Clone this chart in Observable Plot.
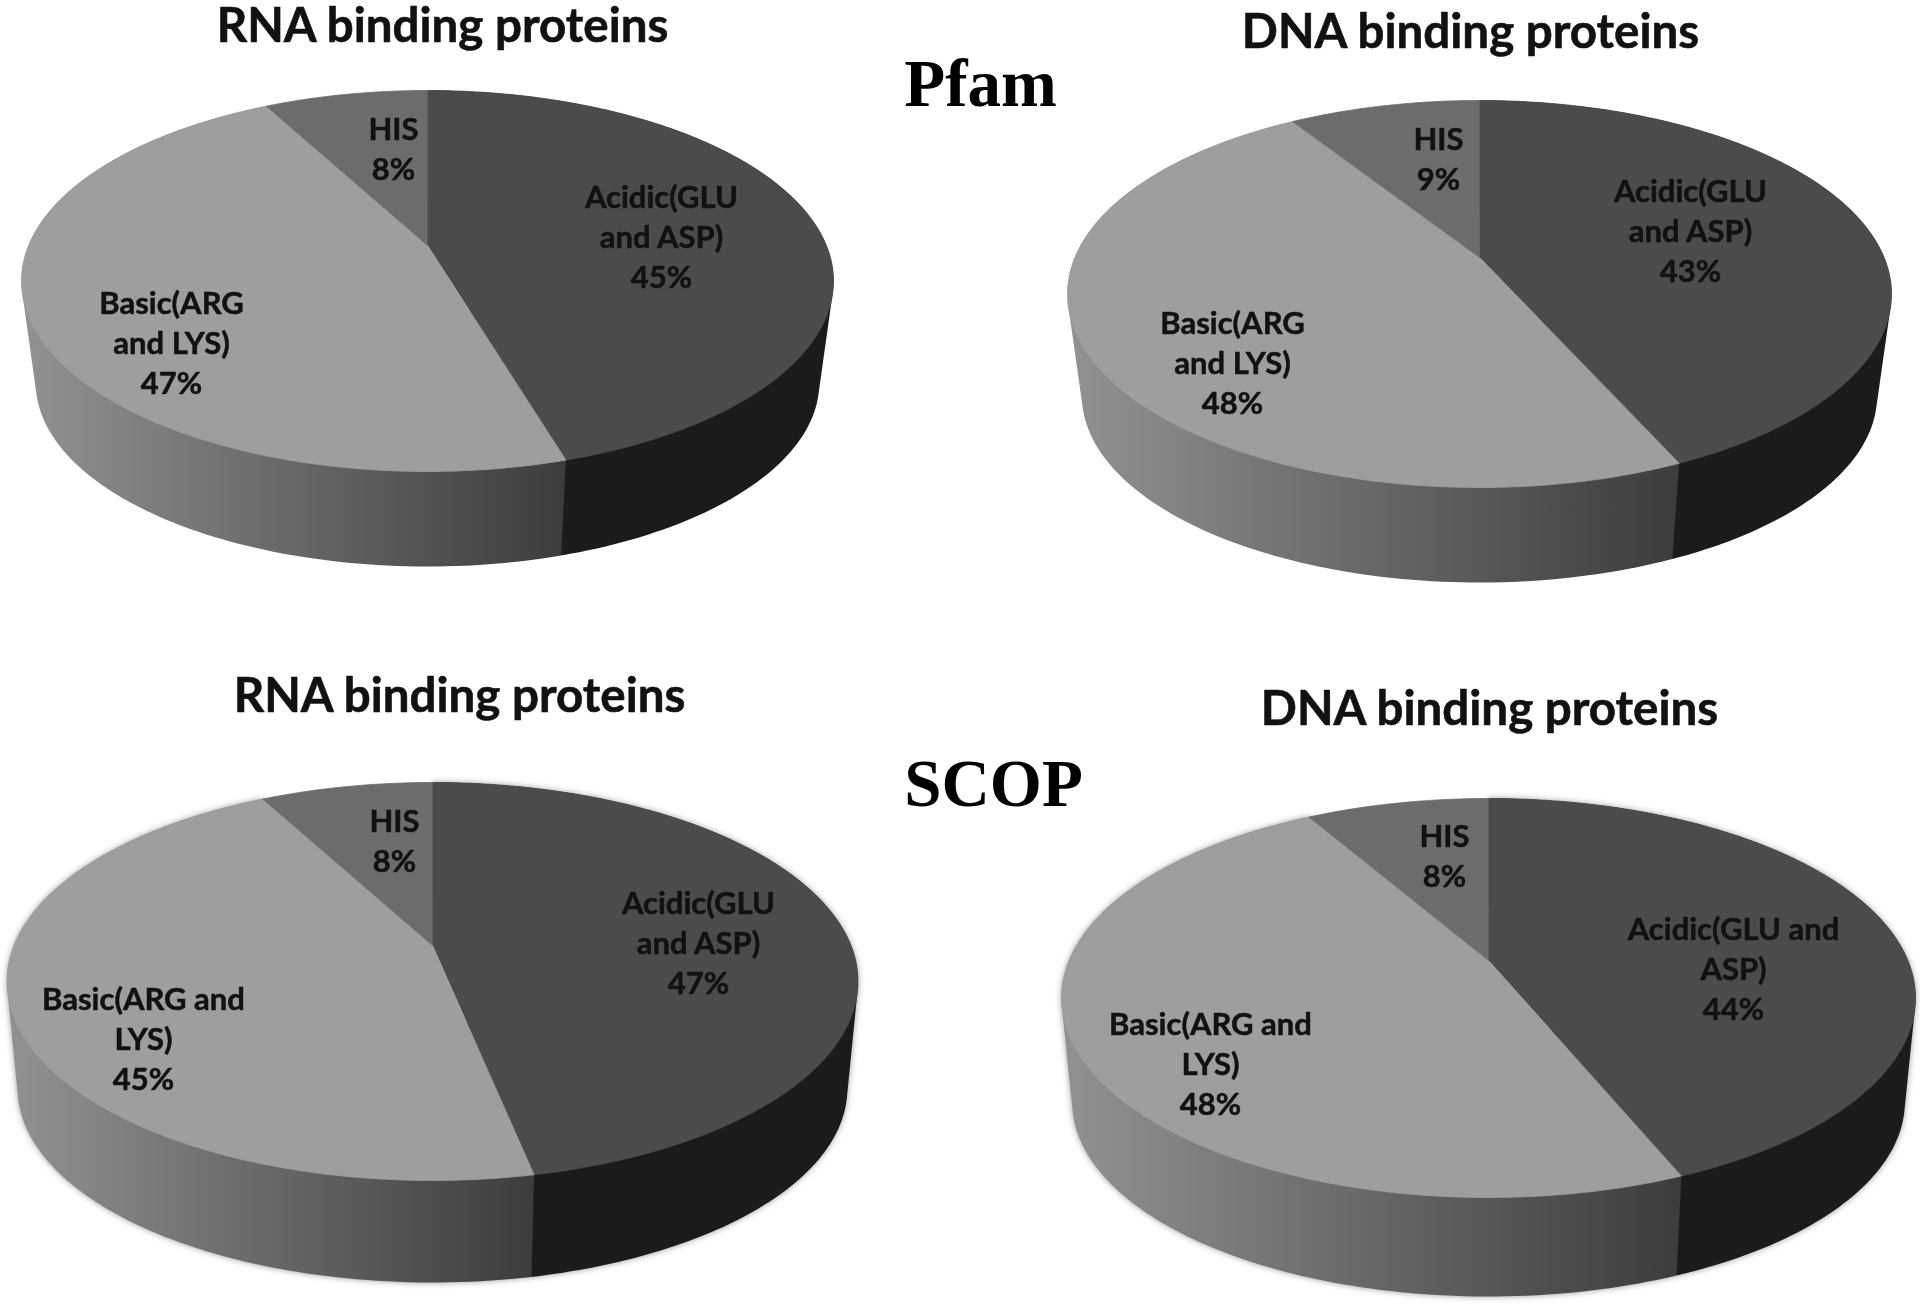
<!DOCTYPE html>
<html>
<head>
<meta charset="utf-8">
<script src="https://cdn.jsdelivr.net/npm/d3@7"></script>
<script src="https://cdn.jsdelivr.net/npm/@observablehq/plot@0.6"></script>
<style>html,body{margin:0;padding:0;background:#fff}svg{display:block}</style>
</head>
<body>
<div id="chart"></div>
<script>
// ---- data (slice sizes estimated from the drawn angles; labels round them) ----
const pieTitles = ["RNA binding proteins", "DNA binding proteins", "RNA binding proteins", "DNA binding proteins"];
const groupNames = ["Pfam", "SCOP"];
const acidic = [45.4, 43.3, 46.8, 43.8];
const basic  = [46.8, 47.7, 45.4, 47.9];
const his    = [7.8, 9.0, 7.8, 8.3];
const acidicLabels = ["Acidic(GLU\nand ASP)", "Acidic(GLU\nand ASP)", "Acidic(GLU\nand ASP)", "Acidic(GLU and\nASP)"];
const basicLabels  = ["Basic(ARG\nand LYS)", "Basic(ARG\nand LYS)", "Basic(ARG and\nLYS)", "Basic(ARG and\nLYS)"];
const hisLabels    = ["HIS", "HIS", "HIS", "HIS"];

// ---- layout: the perspective frame of each pie, in page pixels ----
const pieFrames = [
  {cx: 427,  apex: 245, top: 90,  bottom: 471,  left: 21,   right: 833,  wall: 566,  shrink: 0.965},
  {cx: 1479, apex: 257, top: 100, bottom: 487,  left: 1068, right: 1892, wall: 582,  shrink: 0.965},
  {cx: 432,  apex: 945, top: 782, bottom: 1180, left: 6,    right: 857,  wall: 1282, shrink: 0.975},
  {cx: 1488, apex: 960, top: 798, bottom: 1197, left: 1060, right: 1914, wall: 1296, shrink: 0.975}
];
const titleAt = [[442, 26], [1470, 32], [459, 696], [1489, 709]];
const groupAt = [[980, 84], [993, 784]];
const acidicAt = [[661, 235], [1690, 229], [698, 941], [1733, 967]];
const basicAt  = [[171, 341], [1232, 361], [143, 1037], [1210, 1062]];
const hisAt    = [[393, 147], [1438, 157], [394, 839], [1444, 854]];

const W = 1920, H = 1307;
const colors = {acidic: "#4b4b4b", basic: "#9e9e9e", his: "#6c6c6c", acidicWall: "#1b1b1b"};
const pct = d3.format(".0f");

function projector(f) {
  const A = f.apex - f.top, B = f.bottom - f.apex;
  const k = -(B - A) / (A + B);
  const S = A * (1 - k);
  const T = ((f.right - f.left) / 2) * Math.sqrt(1 - k * k);
  const top = t => {
    const u = Math.sin(t), v = -Math.cos(t), w = 1 + k * v;
    return [f.cx + T * u / w, f.apex + S * v / w];
  };
  const wallApex = f.wall - f.shrink * B;
  const bottom = t => {
    const u = Math.sin(t), v = -Math.cos(t), w = 1 + k * v;
    return [f.cx + f.shrink * T * u / w, wallApex + f.shrink * S * v / w];
  };
  return {top, bottom};
}

const topRows = [], wallRows = [], labelRows = [];
pieFrames.forEach((f, i) => {
  const p = projector(f);
  const slices = [
    {key: "acidic", value: acidic[i], fill: colors.acidic, wallFill: colors.acidicWall},
    {key: "basic",  value: basic[i],  fill: colors.basic,  wallFill: `url(#wall${i})`},
    {key: "his",    value: his[i],    fill: colors.his,    wallFill: colors.his}
  ];
  const total = d3.sum(slices, s => s.value);
  let start = 0;
  for (const s of slices) {
    const a0 = start / total * 2 * Math.PI;
    const a1 = (start + s.value) / total * 2 * Math.PI;
    start += s.value;
    const n = Math.ceil(s.value * 3);
    const angles = d3.range(n + 1).map(j => a0 + (a1 - a0) * j / n);
    const id = `${i}-${s.key}`;
    topRows.push({x: f.cx, y: f.apex, id, fill: s.fill});
    angles.forEach(t => { const q = p.top(t); topRows.push({x: q[0], y: q[1], id, fill: s.fill}); });
    if (s.key !== "his") {
      // the side wall is the hull swept between the top rim and the bottom rim
      const hull = d3.polygonHull([...angles.map(p.top), ...angles.map(p.bottom)]);
      hull.forEach(q => wallRows.push({x: q[0], y: q[1], id, fill: s.wallFill, row: i < 2 ? 0 : 1}));
    }
  }
  labelRows.push(
    {x: acidicAt[i][0], y: acidicAt[i][1], text: `${acidicLabels[i]}\n${pct(acidic[i])}%`},
    {x: basicAt[i][0],  y: basicAt[i][1],  text: `${basicLabels[i]}\n${pct(basic[i])}%`},
    {x: hisAt[i][0],    y: hisAt[i][1],    text: `${hisLabels[i]}\n${pct(his[i])}%`}
  );
});

const titleRows = pieTitles.map((text, i) => ({text, x: titleAt[i][0], y: titleAt[i][1]}));
const groupRows = groupNames.map((text, i) => ({text, x: groupAt[i][0], y: groupAt[i][1]}));

function gradients() {
  const defs = d3.create("svg:defs");
  pieFrames.forEach((f, i) => {
    const g = defs.append("linearGradient").attr("id", `wall${i}`)
      .attr("x1", 0).attr("x2", 1).attr("y1", 0).attr("y2", 0);
    g.append("stop").attr("offset", "0%").attr("stop-color", "#929292");
    g.append("stop").attr("offset", "100%").attr("stop-color", "#3c3c3c");
  });
  return defs.node();
}

const chart = Plot.plot({
  width: W, height: H,
  margin: 0,
  x: {domain: [0, W], range: [0, W], axis: null},
  y: {domain: [0, H], range: [0, H], axis: null},
  color: {type: "identity"},
  style: {background: "#fff", filter: "blur(0.6px)"},
  marks: [
    gradients,
    Plot.line(wallRows.filter(d => d.row === 0), {x: "x", y: "y", z: "id", fill: "fill", stroke: null}),
    Plot.line(wallRows.filter(d => d.row === 1), {x: "x", y: "y", z: "id", fill: "fill", stroke: null, imageFilter: "drop-shadow(0 0 3px #999)"}),
    Plot.line(topRows, {x: "x", y: "y", z: "id", fill: "fill", stroke: "fill", strokeWidth: 0.8}),
    Plot.text(labelRows, {x: "x", y: "y", text: "text", fontFamily: "Lato", fontWeight: 700, fontSize: 31, lineHeight: 1.29, fill: "#111", stroke: "#111", strokeWidth: 0.5, lineAnchor: "middle"}),
    Plot.text(titleRows, {x: "x", y: "y", text: "text", fontFamily: "Lato", fontWeight: 700, fontSize: 47.5, fill: "#111", stroke: "#111", strokeWidth: 0.6, lineAnchor: "middle"}),
    Plot.text(groupRows, {x: "x", y: "y", text: "text", fontFamily: "Liberation Serif", fontWeight: 700, fontSize: 67, fill: "#000", lineAnchor: "middle"})
  ]
});
document.getElementById("chart").append(chart);
</script>
</body>
</html>
